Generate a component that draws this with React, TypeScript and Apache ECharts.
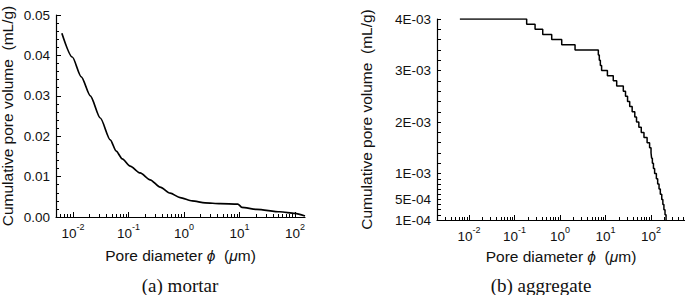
import React, { useEffect, useRef } from "react";
import * as echarts from "echarts";

// ---- data ----
// (a) mortar: pore diameter (µm) vs cumulative pore volume (mL/g)
const MORTAR_D = [0.0063, 0.0097, 0.0141, 0.0205, 0.031, 0.0469, 0.0601, 0.0771, 0.107, 0.162, 0.245, 0.371, 0.562, 0.851, 1.4, 2.4, 4.47, 9.3, 11, 20.4, 53.5, 99.5, 151];
const MORTAR_V = [0.0455, 0.0396, 0.0347, 0.0300, 0.0245, 0.0191, 0.0163, 0.0144, 0.0126, 0.0109, 0.0092, 0.0074, 0.0059, 0.0048, 0.0040, 0.0035, 0.0033, 0.0032, 0.0024, 0.0019, 0.0013, 0.0009, 0.00025];

// (b) aggregate: stepped curve
const AGG_D = [0.0063, 0.185, 0.283, 0.417, 0.657, 1.09, 2.14, 6.95, 7.3, 7.7, 8.2, 11.0, 14.8, 17.6, 24.6, 27.5, 30.5, 34, 38.5, 44, 48, 54, 61, 70, 82, 93, 100, 103, 107, 113, 120, 131, 140, 150, 160, 172, 182, 192, 203, 214];
const AGG_V = [4.0e-3, 3.9e-3, 3.8e-3, 3.7e-3, 3.6e-3, 3.5e-3, 3.4e-3, 3.3e-3, 3.2e-3, 3.1e-3, 3.0e-3, 2.9e-3, 2.8e-3, 2.7e-3, 2.6e-3, 2.5e-3, 2.4e-3, 2.3e-3, 2.2e-3, 2.1e-3, 2.0e-3, 1.9e-3, 1.8e-3, 1.7e-3, 1.6e-3, 1.5e-3, 1.4e-3, 1.3e-3, 1.2e-3, 1.1e-3, 1.0e-3, 0.9e-3, 0.8e-3, 0.7e-3, 0.6e-3, 0.5e-3, 0.4e-3, 0.3e-3, 0.2e-3, 0.1e-3];

// ---- axes / tick labels ----
const X_MAJOR = [0.01, 0.1, 1, 10, 100];
const MORTAR_X_RANGE = [0.00494, 151];
const AGG_X_RANGE = [0.00198, 558];
const MORTAR_Y_RANGE = [0, 0.05];
const AGG_Y_LABEL_VALUES = [0.0001, 0.0005, 0.001, 0.002, 0.003, 0.004];
const AGG_Y_LABEL_TEXT = ["1E-04", "5E-04", "1E-03", "2E-03", "3E-03", "4E-03"];
const CAPTIONS = ["(a) mortar", "(b) aggregate"];
const Y_TITLE = "Cumulative pore volume  (mL/g)";

const FONT = '"Liberation Sans", Arial, sans-serif';
const SERIF = '"Liberation Serif", "Times New Roman", serif';
const INK = "#111";

function minorLogTicks(min: number, max: number): number[] {
  const out: number[] = [];
  for (let e = Math.floor(Math.log10(min)); e <= Math.ceil(Math.log10(max)); e++) {
    for (let m = 2; m <= 9; m++) {
      const v = Number((m * Math.pow(10, e)).toPrecision(6));
      if (v >= min && v <= max) out.push(v);
    }
  }
  return out;
}

function aggYTicks(): number[] {
  const out: number[] = [];
  for (let k = 1; k <= 10; k++) out.push(Number((k * 1e-4).toFixed(4)));
  for (let k = 6; k <= 20; k++) out.push(Number((k * 2e-4).toFixed(4)));
  return out;
}

const supLabel = (v: number) => `{b|10}{s|${Math.round(Math.log10(v))}}`;
const supRich = {
  b: { fontSize: 13.5, fontFamily: FONT, color: INK, lineHeight: 18, verticalAlign: "bottom" },
  s: { fontSize: 9, fontFamily: FONT, color: INK, lineHeight: 8, verticalAlign: "top" },
};

const xTitle = "Pore diameter {i|ϕ}  ({i|μ}m)";
const xTitleStyle = {
  fontSize: 15.5,
  fontFamily: FONT,
  color: INK,
  rich: {
    i: { fontSize: 15.5, fontFamily: FONT, color: INK, fontStyle: "italic" },
  },
};
const yTitleStyle = { fontSize: 15.5, fontFamily: FONT, color: INK };

const axisLineStyle = { color: "#000", width: 1.2 };

function majorX(gridIndex: number, range: number[], gap: number) {
  return {
    gridIndex,
    type: "log",
    logBase: 10,
    min: range[0],
    max: range[1],
    position: "bottom",
    axisLine: { show: true, lineStyle: axisLineStyle },
    axisTick: { show: true, inside: true, length: 5, customValues: X_MAJOR, lineStyle: { color: "#000", width: 1 } },
    axisLabel: { show: true, customValues: X_MAJOR, formatter: supLabel, rich: supRich, margin: 5 },
    splitLine: { show: false },
    minorTick: { show: false },
    name: xTitle,
    nameLocation: "middle",
    nameGap: gap,
    nameTextStyle: xTitleStyle,
  };
}

function minorX(gridIndex: number, range: number[]) {
  return {
    gridIndex,
    type: "log",
    logBase: 10,
    min: range[0],
    max: range[1],
    position: "bottom",
    axisLine: { show: false },
    axisTick: { show: true, inside: true, length: 3, customValues: minorLogTicks(range[0], range[1]), lineStyle: { color: "#000", width: 1 } },
    axisLabel: { show: false },
    splitLine: { show: false },
  };
}

function buildOption() {
  return {
    animation: false,
    backgroundColor: "#fff",
    grid: [
      { left: 56, right: 380, top: 15, bottom: 78, outerBoundsMode: "none" },
      { left: 437, right: 0, top: 19, bottom: 75, outerBoundsMode: "none" },
    ],
    xAxis: [
      majorX(0, MORTAR_X_RANGE, 30),
      minorX(0, MORTAR_X_RANGE),
      majorX(1, AGG_X_RANGE, 28),
      minorX(1, AGG_X_RANGE),
    ],
    yAxis: [
      {
        gridIndex: 0,
        type: "value",
        min: MORTAR_Y_RANGE[0],
        max: MORTAR_Y_RANGE[1],
        interval: 0.01,
        axisLine: { show: true, lineStyle: axisLineStyle },
        axisTick: { show: true, inside: true, length: 5, lineStyle: { color: "#000", width: 1 } },
        minorTick: { show: true, splitNumber: 5, length: 3, lineStyle: { color: "#000", width: 1 } },
        axisLabel: { formatter: (v: number) => v.toFixed(2), margin: 6, fontSize: 13.5, fontFamily: FONT, color: INK },
        splitLine: { show: false },
        name: Y_TITLE,
        nameLocation: "middle",
        nameGap: 41,
        nameTextStyle: yTitleStyle,
      },
      {
        gridIndex: 1,
        type: "value",
        min: AGG_Y_LABEL_VALUES[0],
        max: AGG_Y_LABEL_VALUES[AGG_Y_LABEL_VALUES.length - 1],
        axisLine: { show: true, lineStyle: axisLineStyle },
        axisTick: { show: true, inside: true, length: 4, customValues: aggYTicks(), lineStyle: { color: "#000", width: 1 } },
        axisLabel: {
          customValues: AGG_Y_LABEL_VALUES,
          formatter: (v: number) => {
            let best = 0;
            AGG_Y_LABEL_VALUES.forEach((t, i) => {
              if (Math.abs(t - v) < Math.abs(AGG_Y_LABEL_VALUES[best] - v)) best = i;
            });
            return AGG_Y_LABEL_TEXT[best];
          },
          margin: 6,
          fontSize: 13.5,
          fontFamily: FONT,
          color: INK,
        },
        splitLine: { show: false },
        name: Y_TITLE,
        nameLocation: "middle",
        nameGap: 63,
        nameTextStyle: yTitleStyle,
      },
    ],
    series: [
      {
        type: "line",
        xAxisIndex: 0,
        yAxisIndex: 0,
        data: MORTAR_D.map((d, i) => [d, MORTAR_V[i]]),
        showSymbol: false,
        smooth: 0.25,
        smoothMonotone: "x",
        lineStyle: { color: "#000", width: 1.7 },
      },
      {
        type: "line",
        xAxisIndex: 2,
        yAxisIndex: 1,
        data: AGG_D.map((d, i) => [d, AGG_V[i]]),
        showSymbol: false,
        step: "end",
        lineStyle: { color: "#000", width: 1.5 },
      },
    ],
    graphic: [
      { type: "text", x: 180, y: 285, style: { text: CAPTIONS[0], font: `19px ${SERIF}`, fill: INK, align: "center", verticalAlign: "middle" } },
      { type: "text", x: 541, y: 285, style: { text: CAPTIONS[1], font: `19px ${SERIF}`, fill: INK, align: "center", verticalAlign: "middle" } },
    ],
  };
}

export default function App() {
  const ref = useRef<HTMLDivElement>(null);
  useEffect(() => {
    const chart = echarts.init(ref.current!, null, { renderer: "svg" });
    chart.setOption(buildOption() as any);
    return () => chart.dispose();
  }, []);
  return (
    <div
      ref={ref}
      style={{ position: "absolute", left: 0, top: 0, width: 685, height: 295, background: "#fff" }}
    />
  );
}
